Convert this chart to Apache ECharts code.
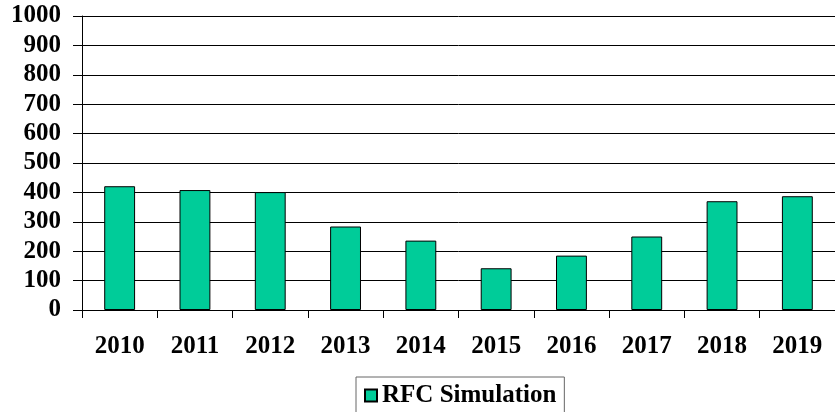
<!DOCTYPE html>
<html>
<head>
<meta charset="utf-8">
<script src="https://cdn.jsdelivr.net/npm/echarts@6/dist/echarts.min.js"></script>
<style>html,body{margin:0;padding:0;background:#fff}#c{width:835px;height:412px}</style>
</head>
<body>
<div id="c"></div>
<script>
const categories = ['2010','2011','2012','2013','2014','2015','2016','2017','2018','2019'];
const seriesName = 'RFC Simulation';
const values = [421, 408, 401, 284, 236, 142, 185, 250, 370, 387];
const yMin = 0, yMax = 1000, yStep = 100;

const font = '"Liberation Serif", "Times New Roman", serif';
const chart = echarts.init(document.getElementById('c'), null, {renderer: 'canvas'});
chart.setOption({
  animation: false,
  backgroundColor: '#fff',
  grid: {left: 82, right: 0, top: 16, bottom: 102, containLabel: false},
  legend: {
    data: [seriesName],
    left: 356, top: 377,
    padding: [6, 8, 6, 8],
    borderColor: '#666', borderWidth: 1,
    itemWidth: 12, itemHeight: 12, itemGap: 0,
    icon: 'rect',
    textStyle: {fontFamily: font, fontWeight: 'bold', fontSize: 25, color: '#000'}
  },
  xAxis: {
    type: 'category', data: categories,
    axisLine: {lineStyle: {color: '#000', width: 1}},
    axisTick: {show: true, length: 8, lineStyle: {color: '#000'}},
    axisLabel: {fontFamily: font, fontWeight: 'bold', fontSize: 25, color: '#000', margin: 24}
  },
  yAxis: {
    type: 'value', min: yMin, max: yMax, interval: yStep,
    axisLine: {show: true, lineStyle: {color: '#000', width: 1}},
    axisTick: {show: true, length: 9, lineStyle: {color: '#000'}},
    splitLine: {lineStyle: {color: '#000', width: 1}},
    axisLabel: {fontFamily: font, fontWeight: 'bold', fontSize: 25, color: '#000', margin: 21,
      formatter: v => String(v)}
  },
  series: [{
    name: seriesName, type: 'bar', data: values,
    barWidth: '41%',
    itemStyle: {color: '#00CC99', borderColor: '#000', borderWidth: 1}
  }]
});
</script>
</body>
</html>
